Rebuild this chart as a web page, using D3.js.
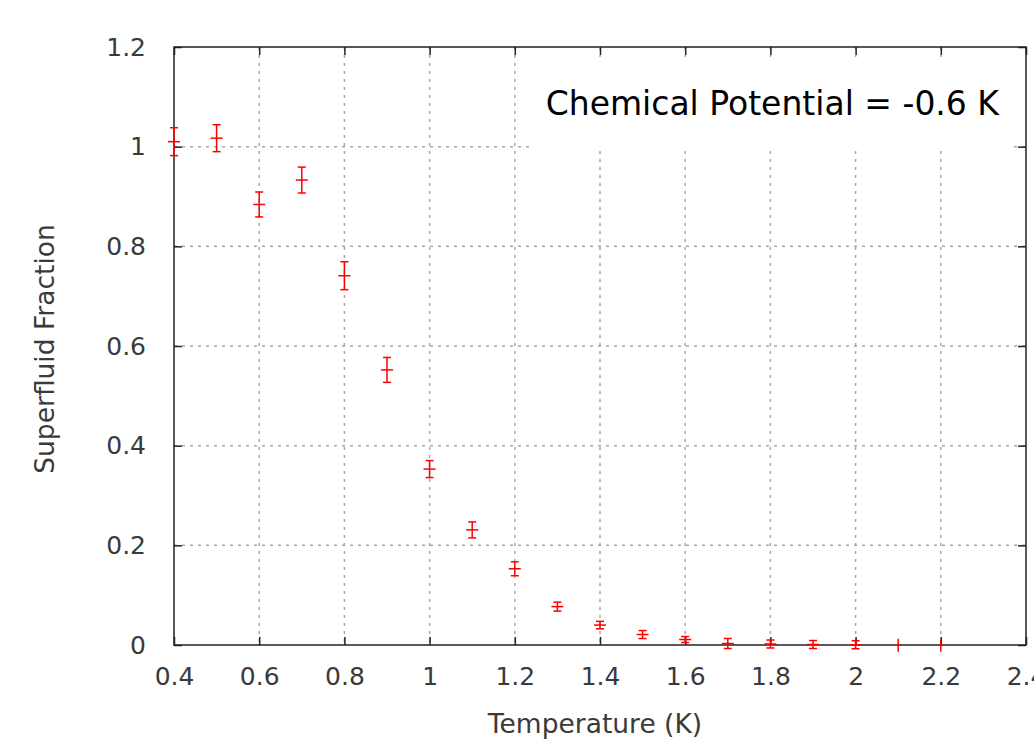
<html>
<head>
<style>
  body { margin: 0; background: #fff; }
  text { font-family: "DejaVu Sans", sans-serif; }
</style>
</head>
<body>
<svg id="chart" width="1034" height="741"></svg>
<script src="https://d3js.org/d3.v7.min.js"></script>
<script>
// data
const temps  = [0.4, 0.5, 0.6, 0.7, 0.8, 0.9, 1.0, 1.1, 1.2, 1.3, 1.4, 1.5, 1.6, 1.7, 1.8, 1.9, 2.0, 2.1, 2.2]
const fracs  = [1.010, 1.017, 0.884, 0.933, 0.741, 0.552, 0.353, 0.231, 0.153, 0.077, 0.040, 0.021, 0.011, 0.003, 0.002, 0.001, 0.0005, -0.0005, -0.0005]
const errs   = [0.028, 0.027, 0.025, 0.026, 0.028, 0.025, 0.017, 0.016, 0.014, 0.009, 0.0075, 0.008, 0.006, 0.010, 0.008, 0.008, 0.008, 0.013, 0.013]
const xTicks = [0.4, 0.6, 0.8, 1.0, 1.2, 1.4, 1.6, 1.8, 2.0, 2.2, 2.4]
const yTicks = [0, 0.2, 0.4, 0.6, 0.8, 1.0, 1.2]

let svg = d3.select("#chart")
let pLeft = 174, pRight = 1026, pTop = 47, pBottom = 645

let x = d3.scaleLinear().domain([0.4, 2.4]).range([pLeft, pRight])
let y = d3.scaleLinear().domain([0, 1.2]).range([pBottom, pTop])

// grid
let grid = svg.append("g")
  .attr("stroke", "#a8a8a8").attr("stroke-width", 1.5).attr("stroke-dasharray", "3,5")
grid.selectAll("line.gx").data(xTicks.slice(1, -1)).enter().append("line")
  .attr("x1", d => x(d)).attr("x2", d => x(d)).attr("y1", pTop).attr("y2", pBottom)
grid.selectAll("line.gy").data(yTicks.slice(1, -1)).enter().append("line")
  .attr("y1", d => y(d)).attr("y2", d => y(d)).attr("x1", pLeft).attr("x2", pRight)

// label box hides grid behind it
svg.append("rect").attr("x", 532).attr("y", 57).attr("width", 480).attr("height", 93).attr("fill", "#fff")
svg.append("text").attr("x", 999).attr("y", 115).attr("text-anchor", "end")
  .attr("font-size", 33).attr("fill", "#000").text("Chemical Potential = -0.6 K")

// axes with inward ticks
let fmt = d => String(+d.toFixed(1))
let axB = d3.axisBottom(x).tickValues(xTicks).tickSize(-8).tickPadding(22).tickFormat(fmt)
let axL = d3.axisLeft(y).tickValues(yTicks).tickSize(-8).tickPadding(28).tickFormat(fmt)
let axT = d3.axisTop(x).tickValues(xTicks).tickSize(-8).tickFormat("")
let axR = d3.axisRight(y).tickValues(yTicks).tickSize(-8).tickFormat("")

function style(g) {
  g.select(".domain").remove()
  g.selectAll(".tick line").attr("stroke", "#222").attr("stroke-width", 1.5)
  g.selectAll(".tick text").attr("fill", "#3a3a3a").attr("font-size", 25)
    .attr("font-family", "DejaVu Sans, sans-serif")
}
svg.append("g").attr("transform", `translate(0,${pBottom})`).call(axB).call(style)
svg.append("g").attr("transform", `translate(${pLeft},0)`).call(axL).call(style)
  .selectAll(".tick text").attr("dy", "0.32em")
svg.append("g").attr("transform", `translate(0,${pTop})`).call(axT).call(style)
svg.append("g").attr("transform", `translate(${pRight},0)`).call(axR).call(style)

svg.append("rect").attr("x", pLeft).attr("y", pTop).attr("width", pRight - pLeft).attr("height", pBottom - pTop)
  .attr("fill", "none").attr("stroke", "#222").attr("stroke-width", 1.5)

// axis titles
svg.append("text").attr("x", 595).attr("y", 733).attr("text-anchor", "middle")
  .attr("font-size", 26.5).attr("fill", "#3a3a3a").text("Temperature (K)")
svg.append("text").attr("transform", `translate(54,349) rotate(-90)`)
  .attr("text-anchor", "middle").attr("font-size", 26.5).attr("fill", "#3a3a3a").text("Superfluid Fraction")

// error bars
let data = temps.map((t, i) => ({ t: t, v: fracs[i], e: errs[i] }))
let pts = svg.append("g").attr("stroke", "#ff0000").attr("stroke-width", 1.5)
pts.selectAll("line.bar").data(data).enter().append("line")
  .attr("x1", d => x(d.t)).attr("x2", d => x(d.t))
  .attr("y1", d => y(d.v + d.e)).attr("y2", d => y(d.v - d.e))
let shown = data.filter(d => d.v >= 0)
pts.selectAll("line.capT").data(shown).enter().append("line")
  .attr("x1", d => x(d.t) - 4).attr("x2", d => x(d.t) + 4)
  .attr("y1", d => y(d.v + d.e)).attr("y2", d => y(d.v + d.e))
pts.selectAll("line.capB").data(shown).enter().append("line")
  .attr("x1", d => x(d.t) - 4).attr("x2", d => x(d.t) + 4)
  .attr("y1", d => y(d.v - d.e)).attr("y2", d => y(d.v - d.e))
pts.selectAll("line.pt").data(shown).enter().append("line")
  .attr("x1", d => x(d.t) - 6).attr("x2", d => x(d.t) + 6)
  .attr("y1", d => y(d.v)).attr("y2", d => y(d.v))
</script>
</body>
</html>
